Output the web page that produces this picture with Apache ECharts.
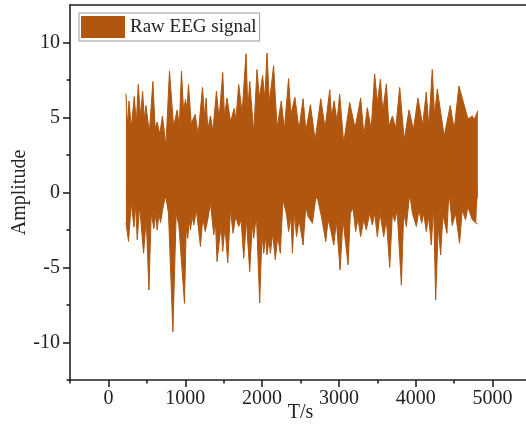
<!DOCTYPE html>
<html><head><meta charset="utf-8">
<script src="https://cdn.jsdelivr.net/npm/echarts@6/dist/echarts.min.js"></script>
<style>html,body{margin:0;padding:0;background:#fff}#c{width:526px;height:432px}</style>
</head><body><div id="c"></div>
<script>
// Upper envelope of the raw EEG signal (time in s, amplitude)
const upperT=[228,248,268,298,336,363,388,418,445,468,488,533,579,608,635,668,704,748,795,848,895,923,951,978,1003,1023,1042,1078,1129,1168,1224,1253,1272,1293,1328,1360,1406,1440,1488,1510,1544,1590,1635,1660,1696,1740,1791,1815,1839,1891,1934,1965,2007,2035,2064,2095,2150,2195,2250,2290,2345,2375,2427,2480,2534,2570,2629,2690,2764,2820,2881,2905,2937,2975,3010,3062,3140,3210,3283,3325,3370,3420,3465,3500,3540,3570,3618,3650,3696,3740,3791,3850,3912,3970,4029,4090,4137,4170,4215,4245,4280,4370,4449,4500,4562,4680,4735,4760,4808];
const upperV=[6.6,4.4,6.1,4.3,6.4,4.6,7.2,5.1,6.75,4.9,5.8,4.0,7.4,4.3,4.7,3.9,5.1,3.1,8.1,4.4,5.5,4.4,8.1,5.4,6.2,5.5,7.2,4.6,5.2,3.85,7.0,5.0,6.3,4.2,5.1,4.1,6.75,4.9,8.0,5.1,6.3,4.7,5.6,4.9,7.2,5.3,9.25,5.5,7.4,4.0,8.2,6.3,7.8,6.2,9.3,6.0,8.45,4.3,6.1,4.2,7.6,5.2,6.35,4.2,6.25,4.1,5.85,3.5,6.25,4.3,6.85,5.0,6.1,4.75,6.55,3.3,6.0,4.3,6.3,3.85,5.65,4.2,7.9,6.0,7.55,5.4,7.25,4.4,5.1,4.3,7.0,3.5,5.5,4.2,6.3,4.5,6.7,4.4,8.2,5.1,6.9,3.75,5.8,4.2,7.1,4.9,5.1,4.85,5.45];
// Lower envelope
const lowerT=[228,262,298,332,354,375,406,458,492,527,557,592,614,635,657,678,704,743,782,839,882,917,990,1012,1033,1051,1068,1090,1111,1146,1198,1228,1260,1293,1328,1371,1393,1414,1450,1468,1487,1517,1553,1588,1622,1657,1696,1727,1761,1796,1839,1874,1891,1926,1969,1999,2021,2047,2064,2090,2108,2138,2172,2203,2237,2272,2315,2346,2376,2395,2420,2448,2482,2534,2569,2599,2655,2707,2772,2829,2859,2889,2933,2967,3015,3053,3119,3149,3183,3218,3248,3283,3322,3357,3400,3435,3465,3500,3535,3583,3618,3661,3696,3726,3757,3813,3843,3878,3921,3956,4008,4042,4077,4103,4137,4168,4202,4233,4259,4293,4324,4354,4406,4432,4475,4518,4570,4605,4648,4678,4735,4787,4808];
const lowerV=[-2.0,-3.27,-0.7,-2.3,-0.8,-3.15,-0.9,-4.05,-1.7,-6.5,-1.4,-2.4,-1.5,-2.5,-1.4,-2.0,-1.2,-0.15,-1.4,-9.28,-1.4,-2.2,-7.39,-2.4,-3.05,-1.8,-2.5,-1.6,-2.16,-1.2,-3.6,-1.7,-2.6,-1.8,-0.71,-2.83,-1.95,-4.6,-2.94,-2.27,-3.94,-2.27,-4.68,-1.16,-2.71,-1.6,-2.27,-1.82,-4.38,-1.82,-5.28,-2.05,-3.05,-1.49,-7.35,-2.71,-4.05,-2.94,-4.16,-3.16,-4.05,-2.71,-4.49,-2.94,-4.05,-0.49,-1.38,-2.6,-1.6,-4.05,-1.38,-2.94,-1.82,-3.5,-0.94,-1.6,-2.05,-0.04,-1.6,-3.27,-1.82,-2.38,-3.5,-1.93,-5.16,-1.82,-4.82,-1.38,-1.05,-2.6,-1.71,-2.94,-1.82,-2.49,-1.38,-2.16,-1.38,-2.94,-1.38,-2.94,-1.82,-4.99,-1.38,-1.93,-1.16,-6.17,-1.38,-2.27,-0.04,-1.38,-2.27,-1.16,-2.05,-1.38,-2.6,-1.6,-3.5,-0.94,-7.17,-2.27,-4.16,-1.49,-2.71,0.07,-2.2,-1.38,-3.38,-1.16,-1.82,-0.94,-1.82,-2.05,-2.1];
const xMajor=[0,1000,2000,3000,4000,5000];
const xMinor=[-500,500,1500,2500,3500,4500];
const yMajor=[-10,-5,0,5,10];
const yMinor=[-12.5,-7.5,-2.5,2.5,7.5];
const seriesName='Raw EEG signal';

const color='#B0560F';
const ink='#222';
const font='"Liberation Serif","Times New Roman",serif';
const axisLine={show:true,onZero:false,lineStyle:{color:ink,width:1.6}};
const noLine={show:false,onZero:false};
const plain=v=>String(v);
const chart=echarts.init(document.getElementById('c'),null,{renderer:'canvas'});
function mkSeries(T,V,origin){
  return {name:seriesName,type:'line',xAxisIndex:0,yAxisIndex:0,
    data:T.map((t,i)=>[t,V[i]]),showSymbol:false,symbol:'none',sampling:null,
    lineStyle:{color:color,width:1},itemStyle:{color:color},
    areaStyle:{color:color,opacity:1,origin:origin},animation:false,z:2};
}
chart.setOption({
  animation:false,
  backgroundColor:'#fff',
  grid:{left:70,top:5,right:-5,bottom:52,containLabel:false,outerBoundsMode:'none'},
  legend:{data:[seriesName],left:79,top:13,padding:[3,3,3,2],itemWidth:44,itemHeight:22,
    icon:'rect',borderColor:'#999',borderWidth:1,backgroundColor:'#fff',selectedMode:false,
    textStyle:{fontFamily:font,fontSize:19,color:ink}},
  xAxis:[
    {type:'value',position:'bottom',min:-500,max:5500,
     axisLine:axisLine,splitLine:{show:false},
     axisTick:{show:true,customValues:xMajor,length:7,lineStyle:{color:ink,width:1.6}},
     axisLabel:{show:true,customValues:xMajor,formatter:plain,margin:9,fontFamily:font,fontSize:20,color:ink},
     name:'T/s',nameLocation:'middle',nameGap:23,nameMoveOverlap:false,nameTextStyle:{fontFamily:font,fontSize:20,color:ink}},
    {type:'value',position:'bottom',min:-500,max:5500,
     axisLine:noLine,splitLine:{show:false},
     axisTick:{show:true,customValues:xMinor,length:3.5,lineStyle:{color:ink,width:1.6}},
     axisLabel:{show:false}},
    {type:'value',position:'top',min:-500,max:5500,
     axisLine:axisLine,splitLine:{show:false},axisTick:{show:false},axisLabel:{show:false}}
  ],
  yAxis:[
    {type:'value',position:'left',min:-12.5,max:12.5,
     axisLine:axisLine,splitLine:{show:false},
     axisTick:{show:true,customValues:yMajor,length:7,lineStyle:{color:ink,width:1.6}},
     axisLabel:{show:true,customValues:yMajor,formatter:plain,margin:10,fontFamily:font,fontSize:20,color:ink},
     name:'Amplitude',nameLocation:'middle',nameGap:40,nameMoveOverlap:false,nameTextStyle:{fontFamily:font,fontSize:20,color:ink}},
    {type:'value',position:'left',min:-12.5,max:12.5,
     axisLine:noLine,splitLine:{show:false},
     axisTick:{show:true,customValues:yMinor,length:3.5,lineStyle:{color:ink,width:1.6}},
     axisLabel:{show:false}}
  ],
  series:[mkSeries(upperT,upperV,-0.4),mkSeries(lowerT,lowerV,0.4)]
});
</script></body></html>
